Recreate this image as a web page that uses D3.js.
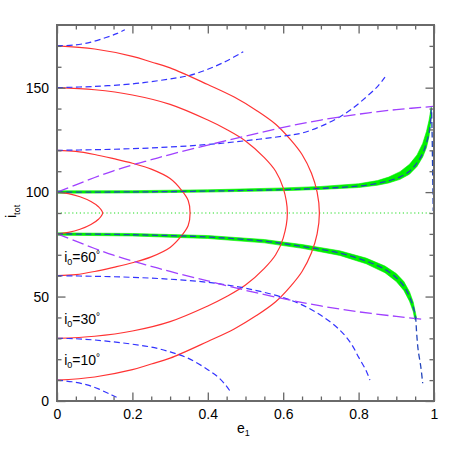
<!DOCTYPE html>
<html>
<head>
<meta charset="utf-8">
<script src="https://d3js.org/d3.v7.min.js"></script>
<style>
  body { margin: 0; background: #fff; }
  text { font-family: "Liberation Sans", Arial, sans-serif; }
</style>
</head>
<body>
<div id="graph"></div>
<script>
// tick values
var xMajor = [0, 0.2, 0.4, 0.6, 0.8, 1];
var xMinor = [0.05, 0.1, 0.15, 0.25, 0.3, 0.35, 0.45, 0.5, 0.55, 0.65, 0.7, 0.75, 0.85, 0.9, 0.95];
var yMajor = [0, 50, 100, 150];
var yMinor = [10, 20, 30, 40, 60, 70, 80, 90, 110, 120, 130, 140, 160, 170];

// red solid curves, [e1, i_tot]
var red80 = [[0,80],[0.03,80.7],[0.061,82.2],[0.09,84.5],[0.11,87],[0.121,90],[0.11,93],[0.09,95.5],[0.061,97.8],[0.03,99.3],[0,100]];
var red60 = [[0,60],[0.05,60.5],[0.1,62],[0.15,64],[0.2,66.2],[0.25,69],[0.3,73.5],[0.33,79],[0.348,84],[0.353,90],
             [0.348,96],[0.33,101],[0.3,106.5],[0.25,111],[0.2,113.8],[0.15,116],[0.1,118],[0.05,119.5],[0,120]];
var red30 = [[0,30],[0.1,31],[0.2,33.5],[0.3,38],[0.4,45.5],[0.45,50],[0.5,55.5],[0.55,63.5],[0.58,70],[0.6,78],[0.611,90],
             [0.6,102],[0.58,110],[0.55,116.5],[0.5,124.5],[0.45,130],[0.4,134.5],[0.3,142],[0.2,146.5],[0.1,149],[0,150]];
var red10 = [[0,10],[0.1,11.5],[0.2,15],[0.25,17.7],[0.3,20.5],[0.4,28.5],[0.47,34.5],[0.53,41],[0.58,47.5],[0.62,55],[0.65,62],[0.675,71],[0.69,80],[0.696,90],
             [0.69,100],[0.675,109],[0.65,118],[0.62,125],[0.58,132.5],[0.53,139],[0.47,145.5],[0.4,151.5],[0.3,159.5],[0.25,162.3],[0.2,165],[0.1,168.5],[0,170]];

// green bands: upper edge and lower edge
var bandHiTop = [[0,100.6],[0.2,100.7],[0.4,101.1],[0.6,102],[0.7,102.7],[0.8,104],[0.85,105.5],[0.88,107.2],[0.91,109.8],[0.935,113.3],[0.955,117.8],[0.97,123.3],[0.98,129],[0.987,134.5],[0.993,141]];
var bandHiBot = [[0,99.5],[0.2,99.6],[0.4,100],[0.6,100.7],[0.7,101.3],[0.8,102.2],[0.85,103.3],[0.88,104.4],[0.91,106.1],[0.935,108.6],[0.955,112.3],[0.97,116.8],[0.98,121.3],[0.987,126.8],[0.991,133],[0.993,141]];
var bandLoTop = [[0,80.5],[0.2,80.2],[0.4,79.2],[0.55,77.3],[0.65,74.9],[0.75,71.9],[0.82,68.4],[0.87,64.6],[0.9,61],[0.92,57.2],[0.935,52.3],[0.945,47.3],[0.954,39.5]];
var bandLoBot = [[0,79.4],[0.2,79],[0.4,77.8],[0.55,75.7],[0.65,73.1],[0.75,69.7],[0.82,65.7],[0.87,61.4],[0.9,57.2],[0.92,52.9],[0.935,47.8],[0.945,42.8],[0.949,39]];

// dark blue dashed lines on the bands
var blueHi = [[0,100],[0.2,100.1],[0.4,100.5],[0.6,101.2],[0.7,101.8],[0.8,102.9],[0.85,104.2],[0.88,105.4],[0.91,107.3],[0.935,110],[0.955,114],[0.97,118.5],[0.98,123.5],[0.987,128.5],[0.991,134],[0.993,140],
              [0.995,128],[0.996,115],[0.997,103],[0.998,91]];
var blueLo = [[0,80],[0.2,79.6],[0.4,78.5],[0.55,76.5],[0.65,74],[0.75,70.8],[0.82,67],[0.87,63],[0.9,59],[0.92,55],[0.935,50],[0.945,45],[0.951,40],[0.954,32.4],[0.958,24.4],[0.965,16.4],[0.97,8.5]];

// blue dashed curves
var blue170 = [[0,170],[0.05,170.5],[0.09,171.8],[0.13,174],[0.16,176],[0.18,177.7]];
var blue150 = [[0,150],[0.1,150.6],[0.2,151.8],[0.25,152.9],[0.3,154.2],[0.35,155.8],[0.4,158.8],[0.45,162.8],[0.494,167.2]];
var blue120 = [[0,120],[0.1,120.3],[0.2,120.8],[0.3,121.6],[0.4,122.8],[0.5,124.6],[0.6,126.8],[0.65,128.3],[0.7,131.5],[0.75,136],[0.78,139.5],[0.82,145.5],[0.85,150.5],[0.87,155]];
var blue60 = [[0,60],[0.1,59.7],[0.2,59.2],[0.3,58.3],[0.4,56.8],[0.5,54],[0.6,49.5],[0.65,46],[0.7,41],[0.75,34],[0.78,27.5],[0.8,21],[0.82,14.5],[0.83,10]];
var blue30 = [[0,30],[0.05,29.8],[0.1,29.2],[0.15,28.3],[0.2,27.2],[0.25,25.8],[0.3,23.5],[0.35,20.3],[0.4,15],[0.43,11],[0.45,7],[0.463,3.7]];
var blue10 = [[0,10],[0.04,9.2],[0.08,7.7],[0.11,5.8],[0.14,3.3],[0.158,1.8]];

// purple long dashed curves
var purpleHi = [[0,100],[0.05,103.5],[0.1,107],[0.15,110.2],[0.2,113],[0.25,115.5],[0.3,118],[0.4,122.5],[0.5,126.8],[0.6,131],[0.7,134.5],[0.8,137.3],[0.9,139.5],[0.998,141]];
var purpleLo = [[0,80],[0.05,76.5],[0.1,73],[0.15,69.8],[0.2,67],[0.25,64.5],[0.3,62],[0.4,57.5],[0.5,53],[0.6,49],[0.7,45.5],[0.8,42.7],[0.9,40.5],[0.97,39.1]];

// green dotted line
var greenDot = [[0,90],[0.99,90]];

// labels
var labelText = ["60", "30", "10"];
var labelPos = [[0.019,66.5],[0.019,36.9],[0.019,17.2]];

const fullwidth = 458, fullheight = 458;
const padLeft = 57, padRight = 434, padTop = 25, padBottom = 401;

var xScale = d3.scaleLinear().domain([0, 1]).range([padLeft, padRight]);
var yScale = d3.scaleLinear().domain([0, 180]).range([padBottom, padTop]);

var svg = d3.select("#graph").append("svg")
  .attr("width", fullwidth)
  .attr("height", fullheight)
  .style("background", "#fff");

svg.append("clipPath").attr("id", "clip")
  .append("rect")
  .attr("x", padLeft).attr("y", padTop)
  .attr("width", padRight - padLeft).attr("height", padBottom - padTop);

var line = d3.line().x(d => xScale(d[0])).y(d => yScale(d[1])).curve(d3.curveCatmullRom.alpha(0.5));
var poly = d3.line().x(d => xScale(d[0])).y(d => yScale(d[1])).curve(d3.curveLinear);

var plot = svg.append("g").attr("clip-path", "url(#clip)");

// green bands
[[bandHiTop, bandHiBot], [bandLoTop, bandLoBot]].forEach(function(b) {
  plot.append("path")
    .attr("d", poly(b[0].concat(b[1].slice().reverse())) + "Z")
    .attr("fill", "#00f000")
    .attr("stroke", "#00f000")
    .attr("stroke-width", 0.6);
});

// green dotted
plot.append("path").attr("d", poly(greenDot))
  .attr("fill", "none").attr("stroke", "#22dd22")
  .attr("stroke-width", 1.2).attr("stroke-dasharray", "1.2,2.6");

// red curves
[red80, red60, red30, red10].forEach(function(c) {
  plot.append("path").attr("d", line(c))
    .attr("fill", "none").attr("stroke", "#ff3333").attr("stroke-width", 1.2);
});

// blue dashed
[blue170, blue150, blue120, blue60, blue30, blue10].forEach(function(c) {
  plot.append("path").attr("d", line(c))
    .attr("fill", "none").attr("stroke", "#3333ff").attr("stroke-width", 1.2)
    .attr("stroke-dasharray", "6,3.5");
});

// purple long dashed
[purpleHi, purpleLo].forEach(function(c) {
  plot.append("path").attr("d", line(c))
    .attr("fill", "none").attr("stroke", "#a040ff").attr("stroke-width", 1.3)
    .attr("stroke-dasharray", "12,4.5");
});

// dark blue on bands
[blueHi, blueLo].forEach(function(c) {
  plot.append("path").attr("d", line(c))
    .attr("fill", "none").attr("stroke", "#2244bb").attr("stroke-width", 1.3)
    .attr("stroke-dasharray", "6,3.5");
});

// axes: ticks inward on all sides
function drawAxis(axisFn, scale, vals, size, labelled, tx, ty) {
  var ax = axisFn(scale).tickValues(vals).tickSizeInner(-size).tickSizeOuter(0).tickPadding(8);
  if (!labelled) ax.tickFormat("");
  else ax.tickFormat(d3.format("~g"));
  var g = svg.append("g").attr("transform", "translate(" + tx + "," + ty + ")").call(ax);
  g.select(".domain").remove();
  g.selectAll(".tick line").attr("stroke", "#666").attr("stroke-width", 1.3);
  g.selectAll("text").attr("font-size", 14).attr("fill", "#000");
  return g;
}
drawAxis(d3.axisBottom, xScale, xMajor, 8.5, true, 0, padBottom);
drawAxis(d3.axisBottom, xScale, xMinor, 4.5, false, 0, padBottom);
drawAxis(d3.axisTop, xScale, xMajor, 8.5, false, 0, padTop);
drawAxis(d3.axisTop, xScale, xMinor, 4.5, false, 0, padTop);
drawAxis(d3.axisLeft, yScale, yMajor, 8.5, true, padLeft, 0);
drawAxis(d3.axisLeft, yScale, yMinor, 4.5, false, padLeft, 0);
drawAxis(d3.axisRight, yScale, yMajor, 8.5, false, padRight, 0);
drawAxis(d3.axisRight, yScale, yMinor, 4.5, false, padRight, 0);

// frame
svg.append("rect")
  .attr("x", padLeft).attr("y", padTop)
  .attr("width", padRight - padLeft).attr("height", padBottom - padTop)
  .attr("fill", "none").attr("stroke", "#6a6a6a").attr("stroke-width", 2);

// i0 labels
labelText.forEach(function(t, k) {
  var tx = svg.append("text")
    .attr("x", xScale(labelPos[k][0])).attr("y", yScale(labelPos[k][1]))
    .attr("font-size", 14);
  tx.append("tspan").text("i");
  tx.append("tspan").attr("font-size", 9).attr("dy", 3).text("0");
  tx.append("tspan").attr("dy", -3).text("=" + t);
  tx.append("tspan").attr("font-size", 10).attr("dy", -4).text("°");
});

// axis titles
var xt = svg.append("text").attr("x", 237).attr("y", 433).attr("font-size", 14);
xt.append("tspan").text("e");
xt.append("tspan").attr("font-size", 9).attr("dy", 3).text("1");

var yt = svg.append("text").attr("transform", "translate(16,218) rotate(-90)").attr("font-size", 14);
yt.append("tspan").text("i");
yt.append("tspan").attr("font-size", 9).attr("dy", 4).text("tot");
</script>
</body>
</html>
